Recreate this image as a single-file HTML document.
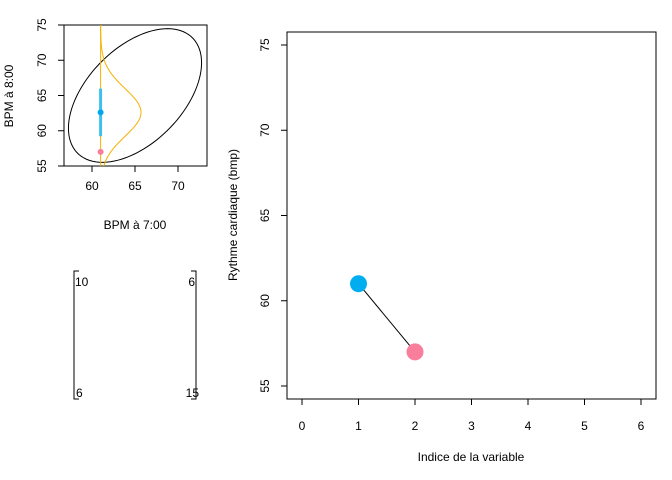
<!DOCTYPE html>
<html><head><meta charset="utf-8"><style>body{margin:0;background:#fff}svg{display:block;font-family:"Liberation Sans",sans-serif}</style></head>
<body>
<svg id="c" width="672" height="480" xmlns="http://www.w3.org/2000/svg"></svg>
<script>
const mu=[65,65];
const sigma=[[10,6],[6,15]];
const xObs=[61];
const yObs=[57];
const xTicksL=[60,65,70];
const yTicksL=[55,60,65,70,75];
const indices=[1,2];
const values=[61,57];
const xTicksR=[0,1,2,3,4,5,6];
const yTicksR=[55,60,65,70,75];
const NS='http://www.w3.org/2000/svg';
const svg=document.getElementById('c');
function el(t,a,p){const e=document.createElementNS(NS,t);for(const k in a)e.setAttribute(k,a[k]);(p||svg).appendChild(e);return e;}
// left panel scales
const lx=v=>92+(v-60)*8.6, ly=v=>166-(v-55)*7.05;
let e=el('rect',{x:64,y:25,width:143,height:141,fill:'none',stroke:'#000'});

xTicksL.forEach(t=>{let l=el('line',{x1:lx(t),x2:lx(t),y1:166,y2:172,stroke:'#000'});
let tx=el('text',{x:lx(t),y:190,'font-size':12,'text-anchor':'middle'});tx.textContent=t;});
yTicksL.forEach(t=>{let l=el('line',{x1:58,x2:64,y1:ly(t),y2:ly(t),stroke:'#000'});
let tx=el('text',{x:0,y:0,'font-size':12,'text-anchor':'middle',transform:`translate(46,${ly(t)}) rotate(-90)`});tx.textContent=t;});
e=el('text',{x:135,y:229,'font-size':12,'text-anchor':'middle'});e.textContent='BPM à 7:00';
e=el('text',{x:0,y:0,'font-size':12,'text-anchor':'middle',transform:'translate(13,96) rotate(-90)'});e.textContent='BPM à 8:00';
// clip
const cp=el('clipPath',{id:'cl'});el('rect',{x:64,y:25,width:143,height:141},cp);
const g=el('g',{'clip-path':'url(#cl)'});
// ellipse
const a=sigma[0][0],b=sigma[0][1],d=sigma[1][1];
const L11=Math.sqrt(a),L21=b/L11,L22=Math.sqrt(d-L21*L21),k=Math.sqrt(5.991);
let pts=[];for(let i=0;i<=100;i++){const t=i/100*2*Math.PI,u=Math.cos(t)*k,w=Math.sin(t)*k;pts.push(lx(mu[0]+L11*u)+','+ly(mu[1]+L21*u+L22*w));}
e=el('polyline',{points:pts.join(' '),fill:'none',stroke:'#000'},g);
// conditional
const cm=mu[1]+b/a*(xObs[0]-mu[0]),cs=Math.sqrt(d-b*b/a);
e=el('line',{x1:lx(xObs[0]),x2:lx(xObs[0]),y1:0,y2:200,stroke:'#f5b000','stroke-width':1},g);
pts=[];for(let y=50;y<=80;y+=0.2){const dens=Math.exp(-0.5*((y-cm)/cs)**2);pts.push(lx(xObs[0]+4.7*dens)+','+ly(y));}
e=el('polyline',{points:pts.join(' '),fill:'none',stroke:'#f5b000'},g);
e=el('line',{x1:lx(xObs[0]),x2:lx(xObs[0]),y1:ly(cm-cs),y2:ly(cm+cs),stroke:'#3ec0ef','stroke-width':3},g);
e=el('circle',{cx:lx(xObs[0]),cy:ly(cm),r:3,fill:'#00a8ef'},g);
e=el('circle',{cx:lx(xObs[0]),cy:ly(yObs[0]),r:3,fill:'#f87e9b'},g);
// matrix
e=el('path',{d:'M79,271 H74 V399 H79 M191,271 H196 V399 H191',fill:'none',stroke:'#000'});
[[sigma[0][0],75,286,'start'],[sigma[0][1],195,286,'end'],[sigma[1][0],76,397,'start'],[sigma[1][1],199,397,'end']].forEach(m=>{let t=el('text',{x:m[1],y:m[2],'font-size':12,'text-anchor':m[3]});t.textContent=m[0];});
// right panel
const rx=v=>302+v*56.5, ry=v=>386-(v-55)*17.05;
e=el('rect',{x:287,y:32,width:369,height:367,fill:'none',stroke:'#000'});
xTicksR.forEach(t=>{let l=el('line',{x1:rx(t),x2:rx(t),y1:399,y2:405,stroke:'#000'});
let tx=el('text',{x:rx(t),y:430,'font-size':12,'text-anchor':'middle'});tx.textContent=t;});
yTicksR.forEach(t=>{let l=el('line',{x1:281,x2:287,y1:ry(t),y2:ry(t),stroke:'#000'});
let tx=el('text',{x:0,y:0,'font-size':12,'text-anchor':'middle',transform:`translate(269,${ry(t)}) rotate(-90)`});tx.textContent=t;});
e=el('text',{x:471,y:461,'font-size':12,'text-anchor':'middle'});e.textContent='Indice de la variable';
e=el('text',{x:0,y:0,'font-size':12,'text-anchor':'middle',transform:'translate(237,215) rotate(-90)'});e.textContent='Rythme cardiaque (bmp)';
e=el('line',{x1:rx(indices[0]),y1:ry(values[0]),x2:rx(indices[1]),y2:ry(values[1]),stroke:'#000'});
const cols=['#00aeef','#f87e9b'];
indices.forEach((v,i)=>{let c=el('circle',{cx:rx(v),cy:ry(values[i]),r:8.5,fill:cols[i]});});
</script>
</body></html>
